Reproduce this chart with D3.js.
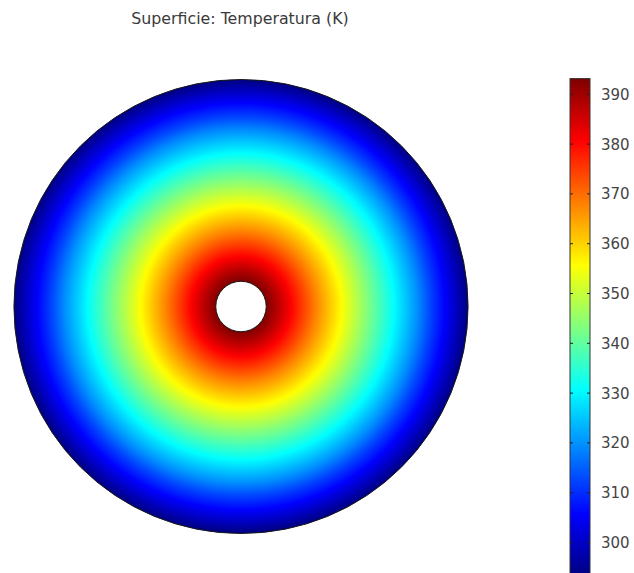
<!DOCTYPE html>
<html>
<head>
<meta charset="utf-8">
<script src="https://cdn.jsdelivr.net/npm/d3@7"></script>
<style>
  html, body { margin: 0; padding: 0; background: #fff; }
  svg { display: block; }
  text { font-family: "DejaVu Sans", sans-serif; }
</style>
</head>
<body>
<svg id="chart" width="634" height="573"></svg>
<script>
// Radial temperature profile across the annular section (radius in cm, temperature in K)
const radiusCm = [1, 1.5, 2, 2.5, 3, 3.5, 4, 4.5, 5, 5.5, 6, 6.5, 7, 7.5, 8, 8.5, 9];
const temperatureK = [393.15, 387, 380.5, 374, 367.5, 361.5, 355.5, 349.5, 343.5, 337.5,
                      331.5, 325.5, 319.5, 312.5, 306.5, 300, 293.15];
const colorbarTicks = [300, 310, 320, 330, 340, 350, 360, 370, 380, 390];
const titleText = "Superficie: Temperatura (K)";

const svg = d3.select("#chart");

const tMin = d3.min(temperatureK), tMax = d3.max(temperatureK);

// Jet-style colour table
function jet(t) {
  const c = v => Math.max(0, Math.min(1, v));
  const r = c(1.5 - Math.abs(4 * t - 3));
  const g = c(1.5 - Math.abs(4 * t - 2));
  const b = c(1.5 - Math.abs(4 * t - 1));
  return d3.rgb(r * 255, g * 255, b * 255).formatHex();
}
const tNorm = d3.scaleLinear().domain([tMin, tMax]).range([0, 1]).clamp(true);
const color = v => jet(tNorm(v));

// Geometry
const cx = 241, cy = 306.5;
const rScale = d3.scaleLinear().domain([0, d3.max(radiusCm)]).range([0, 227]);
const rIn = rScale(d3.min(radiusCm)), rOut = rScale(d3.max(radiusCm));

const defs = svg.append("defs");

// Radial gradient built from the temperature profile (in the annulus' local coordinates)
const rg = defs.append("radialGradient")
  .attr("id", "tempField")
  .attr("gradientUnits", "userSpaceOnUse")
  .attr("cx", 0).attr("cy", 0).attr("r", rOut)
  .attr("fx", 0).attr("fy", 0);

// fine stops so the piecewise-linear colour table is followed between profile points
const profile = d3.scaleLinear().domain(radiusCm).range(temperatureK);
const stopRadii = d3.range(rIn, rOut, 2).concat([rOut]);
rg.append("stop").attr("offset", 0).attr("stop-color", color(tMax));
rg.selectAll("stop.p").data(stopRadii).join("stop")
  .attr("class", "p")
  .attr("offset", d => Math.min(1, d / rOut))
  .attr("stop-color", d => color(profile(rScale.invert(d))));

// Annulus
const arc = d3.arc()
  .innerRadius(rIn).outerRadius(rOut)
  .startAngle(0).endAngle(2 * Math.PI);

svg.append("path")
  .attr("transform", `translate(${cx},${cy})`)
  .attr("d", arc())
  .attr("fill", "url(#tempField)")
  .attr("stroke", "#1a1a1a")
  .attr("stroke-width", 1);

// Title
svg.append("text")
  .attr("x", 240).attr("y", 24)
  .attr("text-anchor", "middle")
  .attr("font-size", 15.8)
  .attr("fill", "#3a3a3a")
  .text(titleText);

// Colour bar
const barX = 570, barW = 20;
const yBar = d3.scaleLinear().domain([390, 310]).range([94.3, 492.7]);
const barTop = yBar(tMax), barBot = yBar(tMin);

const lg = defs.append("linearGradient")
  .attr("id", "barGrad")
  .attr("gradientUnits", "userSpaceOnUse")
  .attr("x1", 0).attr("x2", 0).attr("y1", barTop).attr("y2", barBot);
const barStops = d3.range(0, 1.0001, 0.025);
lg.selectAll("stop").data(barStops).join("stop")
  .attr("offset", d => d)
  .attr("stop-color", d => jet(1 - d));

svg.append("rect")
  .attr("x", barX).attr("y", barTop)
  .attr("width", barW).attr("height", barBot - barTop)
  .attr("fill", "url(#barGrad)")
  .attr("stroke", "#333")
  .attr("stroke-width", 1);

const tickG = svg.append("g");
tickG.selectAll("line.l").data(colorbarTicks).join("line")
  .attr("class", "l")
  .attr("x1", barX).attr("x2", barX + 3)
  .attr("y1", d => yBar(d)).attr("y2", d => yBar(d))
  .attr("stroke", "#222").attr("stroke-width", 1);
tickG.selectAll("line.r").data(colorbarTicks).join("line")
  .attr("class", "r")
  .attr("x1", barX + barW - 3).attr("x2", barX + barW)
  .attr("y1", d => yBar(d)).attr("y2", d => yBar(d))
  .attr("stroke", "#222").attr("stroke-width", 1);
tickG.selectAll("text").data(colorbarTicks).join("text")
  .attr("x", 601)
  .attr("y", d => yBar(d))
  .attr("dy", "0.36em")
  .attr("font-size", 15)
  .attr("fill", "#444")
  .text(d => d);
</script>
</body>
</html>
